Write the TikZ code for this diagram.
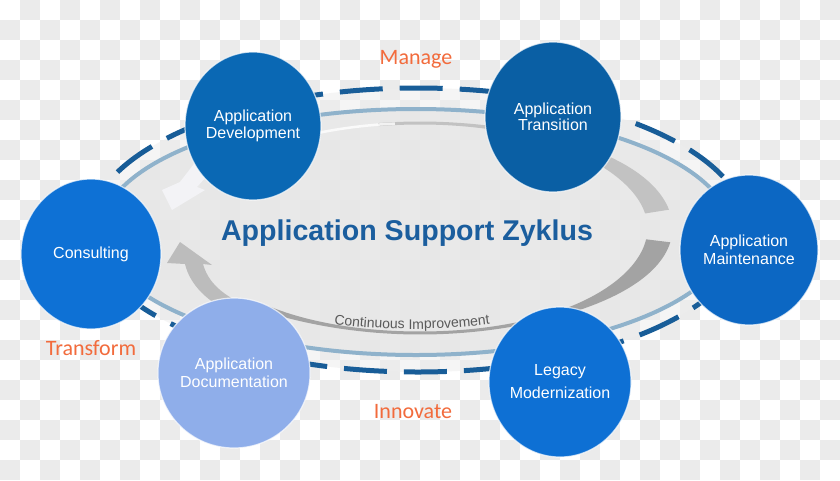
\documentclass[tikz,border=0pt]{standalone}
\usepackage{fontspec}
\setmainfont{Liberation Sans}
\newfontfamily\carlito{Carlito}
\usetikzlibrary{shapes.geometric,decorations.text}
\definecolor{checkgray}{HTML}{EBEBEB}
\definecolor{dashblue}{HTML}{185D98}
\definecolor{ringblue}{HTML}{8FB2CB}
\definecolor{titleblue}{HTML}{1B5E9E}
\definecolor{orangelbl}{HTML}{F26B3C}
\definecolor{cigray}{HTML}{5A5A5A}
\definecolor{bandup}{HTML}{C2C2C2}
\definecolor{bandlow}{HTML}{A3A3A3}
\definecolor{bandleft}{HTML}{BCBCBC}
\definecolor{warrowc}{HTML}{F3F3F6}
\definecolor{cdev}{HTML}{0A68B4}
\definecolor{ctrans}{HTML}{0A5FA4}
\definecolor{ccons}{HTML}{0E71D5}
\definecolor{cmaint}{HTML}{0C67C3}
\definecolor{cdoc}{HTML}{8FAEEA}
\definecolor{cleg}{HTML}{0E70D4}
\begin{document}
\begin{tikzpicture}[x=1pt,y=1pt,
  circ/.style={ellipse, inner sep=0pt, draw=white, draw opacity=.7, line width=1.2pt,
    text=white, align=center, font=\fontsize{16}{16.5}\selectfont},
  lbl/.style={text=orangelbl, font=\carlito\fontsize{22}{22}\selectfont, anchor=base},
  dashring/.style={draw=dashblue, line width=5pt, dash pattern=on 43pt off 17pt},
  lightring/.style={draw=ringblue, line width=4pt},
  declare function={wu(\t)=3+22*abs(cos(\t))^3; wl(\t)=3+22*abs(cos(\t))^4;}]
\useasboundingbox (0,0) rectangle (840,-480);
% checkerboard background
\fill[white] (0,0) rectangle (840,-480);
\foreach \j in {0,2,...,22} {\foreach \i in {1,3,...,41} {\fill[checkgray] (20*\i,-20*\j) rectangle ++(20,-20);}}
\foreach \j in {1,3,...,23} {\foreach \i in {0,2,...,40} {\fill[checkgray] (20*\i,-20*\j) rectangle ++(20,-20);}}
% ellipse fills
\fill[black!7, opacity=.5] (418,-230) ellipse [x radius=329, y radius=142];
\fill[black!10, opacity=.7] (416,-232) ellipse [x radius=315, y radius=123];
\draw[dashring] (418,-230) ellipse [x radius=329, y radius=142];
\draw[lightring] (416,-232) ellipse [x radius=315, y radius=123];
% continuous improvement bands
\fill[bandup] plot[domain=9:100, samples=60, variable=\t] ({420+(240+wu(\t)/2)*cos(\t)}, {-228+(105+wu(\t)/2)*sin(\t)})
  -- plot[domain=100:9, samples=60, variable=\t] ({420+(240-wu(\t)/2)*cos(\t)}, {-228+(105-wu(\t)/2)*sin(\t)}) -- cycle;
\draw[white, line width=2.5pt, opacity=.8] plot[domain=96:150, samples=40, variable=\t] ({420+240*cos(\t)}, {-228+105*sin(\t)});
\fill[bandlow] plot[domain=-132:-7, samples=80, variable=\t] ({420+(240+wl(\t)/2)*cos(\t)}, {-228+(105+wl(\t)/2)*sin(\t)})
  -- plot[domain=-7:-132, samples=80, variable=\t] ({420+(240-wl(\t)/2)*cos(\t)}, {-228+(105-wl(\t)/2)*sin(\t)}) -- cycle;
\fill[bandleft] (180,-242) -- (212,-265) -- (203,-264) .. controls (208,-282) and (222,-296) .. (252,-308)
  -- (235,-314) .. controls (208,-303) and (190,-285) .. (185,-264) -- (167,-263) -- cycle;
\fill[warrowc] (162,-190) -- (172,-210) -- (205,-190) -- (197,-187) -- (216,-166) -- (200,-156) -- (180,-182) -- cycle;
% texts in the middle
\node[anchor=base, text=titleblue, font=\bfseries\fontsize{28.6}{28.6}\selectfont] (title) at (407,-240) {Application Support Zyklus};
\begin{scope}
\fontsize{14}{14}\selectfont
\path[decorate, decoration={text along path, text={Continuous Improvement}, text align=center, text color=cigray}]
  (412,279) ++(-100:608) arc[start angle=-100, end angle=-80, radius=608];
\end{scope}
% circles
\node[circ, fill=cdev, minimum width=136pt, minimum height=148pt] (dev) at (253,-126) {Application\\Development};
\node[circ, fill=ctrans, minimum width=136pt, minimum height=150pt] (trans) at (553,-117) {Application\\Transition};
\node[circ, fill=ccons, minimum width=140pt, minimum height=150pt] (cons) at (91,-254) {Consulting};
\node[circ, fill=cmaint, minimum width=138pt, minimum height=150pt, font=\fontsize{16}{17.5}\selectfont] (maint) at (749,-250) {Application\\Maintenance};
\node[circ, fill=cdoc, minimum width=132pt, minimum height=150pt, font=\fontsize{16}{18}\selectfont] (doc) at (234,-373) {Application\\Documentation};
\node[circ, fill=cleg, minimum width=138pt, minimum height=150pt, font=\fontsize{16}{23}\selectfont] (leg) at (560,-382) {Legacy\\Modernization};
% orange labels
\node[lbl] (manage) at (416,-64) {Manage};
\node[lbl] (transform) at (91,-355) {Transform};
\node[lbl] (innovate) at (413,-418) {Innovate};
\end{tikzpicture}
\end{document}
